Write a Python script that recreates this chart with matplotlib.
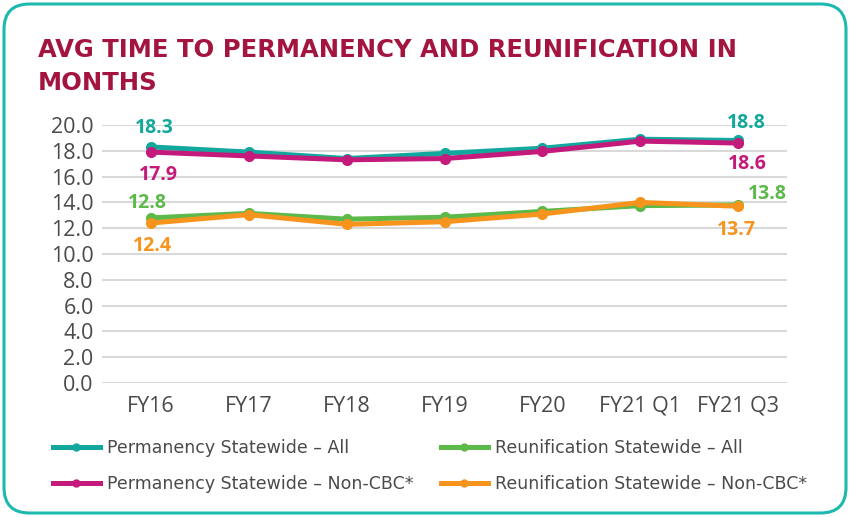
import matplotlib
matplotlib.use("Agg")
import matplotlib.pyplot as plt
from matplotlib.patches import FancyBboxPatch
from matplotlib.lines import Line2D

categories = ["FY16", "FY17", "FY18", "FY19", "FY20", "FY21 Q1", "FY21 Q3"]
perm_all = [18.3, 17.9, 17.4, 17.8, 18.2, 18.9, 18.8]
perm_noncbc = [17.9, 17.6, 17.3, 17.4, 17.95, 18.75, 18.6]
reun_all = [12.8, 13.15, 12.7, 12.85, 13.3, 13.75, 13.8]
reun_noncbc = [12.4, 13.05, 12.3, 12.5, 13.1, 14.0, 13.7]
series_names = ["Permanency Statewide \u2013 All", "Permanency Statewide \u2013 Non-CBC*",
                "Reunification Statewide \u2013 All", "Reunification Statewide \u2013 Non-CBC*"]
yticks = [0, 2, 4, 6, 8, 10, 12, 14, 16, 18, 20]

TEAL = "#12A89E"
MAGENTA = "#C41A7B"
GREEN = "#5CB94A"
ORANGE = "#F7941E"
TITLE = "#A3143F"
GREY = "#4A4A4A"

plt.rcParams['font.family'] = ['Open Sans', 'DejaVu Sans']

fig = plt.figure(figsize=(8.5, 5.17), dpi=100)

border = FancyBboxPatch((4/850, 4/517), 842/850, 509/517,
                        boxstyle="round,pad=0,rounding_size=0.03",
                        transform=fig.transFigure, facecolor="none",
                        edgecolor="#1DB9AF", linewidth=2.2, mutation_aspect=850/517, zorder=5)
fig.patches.append(border)

fig.text(38/850, 1 - 57/517, "AVG TIME TO PERMANENCY AND REUNIFICATION IN",
         color=TITLE, fontsize=17.5, fontweight="bold", ha="left", va="baseline", family="DejaVu Sans")
fig.text(38/850, 1 - 90/517, "MONTHS",
         color=TITLE, fontsize=17.5, fontweight="bold", ha="left", va="baseline", family="DejaVu Sans")

ax = fig.add_axes([102/850, 1 - 383/517, 685/850, 258/517])
x = list(range(len(categories)))
order = [(perm_all, TEAL), (reun_all, GREEN), (perm_noncbc, MAGENTA), (reun_noncbc, ORANGE)]
for vals, col in order:
    ax.plot(x, vals, color=col, linewidth=3.6, marker="o", markersize=7, solid_capstyle="round", zorder=3)

ax.set_xlim(-0.5, len(categories) - 0.5)
ax.set_ylim(0, 20)
ax.set_yticks(yticks)
ax.set_yticklabels([f"{v:.1f}" for v in yticks])
ax.set_xticks(x)
ax.set_xticklabels(categories)
ax.tick_params(axis="both", length=0, labelsize=15.5, colors=GREY)
ax.tick_params(axis="y", pad=6)
ax.tick_params(axis="x", pad=9)
ax.grid(axis="y", color="#D9D9D9", linewidth=1.5)
ax.set_axisbelow(True)
for s in ax.spines.values():
    s.set_visible(False)

lab = dict(fontsize=14, fontweight="bold", ha="center", va="center")
ax.annotate(f"{perm_all[0]:.1f}", (0, perm_all[0]), xytext=(3, 19), textcoords="offset pixels", color=TEAL, **lab)
ax.annotate(f"{perm_noncbc[0]:.1f}", (0, perm_noncbc[0]), xytext=(7, -23), textcoords="offset pixels", color=MAGENTA, **lab)
ax.annotate(f"{reun_all[0]:.1f}", (0, reun_all[0]), xytext=(-4, 15), textcoords="offset pixels", color=GREEN, **lab)
ax.annotate(f"{reun_noncbc[0]:.1f}", (0, reun_noncbc[0]), xytext=(1, -23), textcoords="offset pixels", color=ORANGE, **lab)
n = len(categories) - 1
ax.annotate(f"{perm_all[n]:.1f}", (n, perm_all[n]), xytext=(8, 17), textcoords="offset pixels", color=TEAL, **lab)
ax.annotate(f"{perm_noncbc[n]:.1f}", (n, perm_noncbc[n]), xytext=(9, -21), textcoords="offset pixels", color=MAGENTA, **lab)
ax.annotate(f"{reun_all[n]:.1f}", (n, reun_all[n]), xytext=(29, 11), textcoords="offset pixels", color=GREEN, **lab)
ax.annotate(f"{reun_noncbc[n]:.1f}", (n, reun_noncbc[n]), xytext=(-2, -24), textcoords="offset pixels", color=ORANGE, **lab)

cols = [TEAL, MAGENTA, GREEN, ORANGE]
handles = [Line2D([0], [0], color=c, linewidth=3.6, marker="o", markersize=5) for c in cols]
legkw = dict(loc="upper left", frameon=False, labelcolor=GREY, handlelength=2.7,
             handletextpad=0.4, labelspacing=1.05, borderpad=0, borderaxespad=0,
             prop={"family": "DejaVu Sans", "size": 12.5})
leg1 = fig.legend(handles[:2], series_names[:2], bbox_to_anchor=(53/850, 1 - 439/517), **legkw)
leg2 = fig.legend(handles[2:], series_names[2:], bbox_to_anchor=(441/850, 1 - 439/517), **legkw)

fig.savefig("out.png", dpi=100)
